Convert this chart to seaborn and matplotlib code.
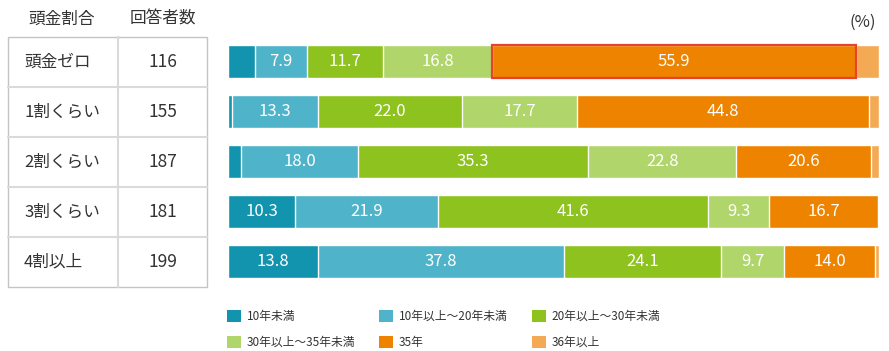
import matplotlib.pyplot as plt
import matplotlib.patches as mpatches
import numpy as np
import pandas as pd
import seaborn as sns

# Data
rows = ['頭金ゼロ', '1割くらい', '2割くらい', '3割くらい', '4割以上']
counts = [116, 155, 187, 181, 199]
periods = ['10年未満', '10年以上〜20年未満', '20年以上〜30年未満',
           '30年以上〜35年未満', '35年', '36年以上']
lt10 = [4.2, 0.6, 2.0, 10.3, 13.8]
y10_20 = [7.9, 13.3, 18.0, 21.9, 37.8]
y20_30 = [11.7, 22.0, 35.3, 41.6, 24.1]
y30_35 = [16.8, 17.7, 22.8, 9.3, 9.7]
y35 = [55.9, 44.8, 20.6, 16.7, 14.0]
y36 = [3.5, 1.6, 1.3, 0.2, 0.6]
colors = ['#1293ae', '#4fb4c9', '#8dc21f', '#b0d56b', '#ee8300', '#f4a955']

sns.set_theme(style='white')
plt.rcParams['font.family'] = ['Noto Sans CJK JP', 'DejaVu Sans']

df = pd.DataFrame({'row': rows, 'n': counts})
series = [lt10, y10_20, y20_30, y30_35, y35, y36]
for p, vals in zip(periods, series):
    df[p] = vals
cum = df[periods].cumsum(axis=1)
start = cum - df[periods]

W, H = 889, 351
fig = plt.figure(figsize=(W / 100, H / 100), dpi=100)

# stacked bars: draw cumulative totals from longest to shortest
ax = fig.add_axes([228 / W, (H - 286.5) / H, 651 / W, 250 / H])
for p, c in reversed(list(zip(periods, colors))):
    sns.barplot(x=cum[p], y=df['row'], orient='h', color=c, saturation=1,
                width=0.66, edgecolor='white', linewidth=1, errorbar=None, ax=ax)
for i in range(len(rows)):
    for p in periods:
        v = df.loc[i, p]
        if v >= 5:
            ax.text(start.loc[i, p] + v / 2, i, f'{v:.1f}', ha='center', va='center',
                    color='white', fontsize=12)
# highlight box around 頭金ゼロ / 35年
ax.add_patch(mpatches.Rectangle((start.loc[0, '35年'], -0.33), df.loc[0, '35年'], 0.66,
                                fill=False, edgecolor='#e8412c', lw=1.6, zorder=5))
ax.set_xlim(0, 100)
ax.set_ylim(len(rows) - 0.5, -0.5)
ax.axis('off')

# left table
tax = fig.add_axes([8 / W, (H - 287) / H, 199 / W, 250 / H])
tax.set_xlim(0, 1)
tax.set_ylim(len(rows) - 0.5, -0.5)
tax.axis('off')
split = 110 / 199
for i in range(1, len(rows)):
    tax.plot([0, 1], [i - 0.5, i - 0.5], color='#dadada', lw=1.5, clip_on=False)
tax.plot([split, split], [-0.5, len(rows) - 0.5], color='#dadada', lw=1.5, clip_on=False)
tax.add_patch(mpatches.Rectangle((0, -0.5), 1, len(rows), fill=False,
                                 edgecolor='#c4c4c4', lw=1, clip_on=False))
for i, (r, n) in enumerate(zip(rows, counts)):
    tax.text(16 / 199, i, r, ha='left', va='center', fontsize=12, color='#333333')
    tax.text(155 / 199, i, str(n), ha='center', va='center', fontsize=12.5, color='#333333')
tax.text(54 / 199, -0.86, '頭金割合', ha='center', va='center', fontsize=12, color='#333333')
tax.text(155 / 199, -0.86, '回答者数', ha='center', va='center', fontsize=12, color='#333333')

fig.text(863 / W, 1 - 22 / H, '(%)', ha='center', va='center', fontsize=12, color='#333333')

# legend, three columns placed separately
handles = [mpatches.Patch(facecolor=c, edgecolor='none') for c in colors]
for col, x0 in enumerate([227, 379, 532]):
    idx = [col, col + 3]
    leg = fig.legend([handles[k] for k in idx], [periods[k] for k in idx],
                     loc='upper left', bbox_to_anchor=(x0 / W, 1 - 310 / H),
                     frameon=False, fontsize=8.5, handlelength=1.2, handleheight=1.2,
                     handletextpad=0.45, labelspacing=1.08, borderpad=0, borderaxespad=0)
    for t in leg.get_texts():
        t.set_color('#333333')

fig.savefig('out.png', dpi=100)
